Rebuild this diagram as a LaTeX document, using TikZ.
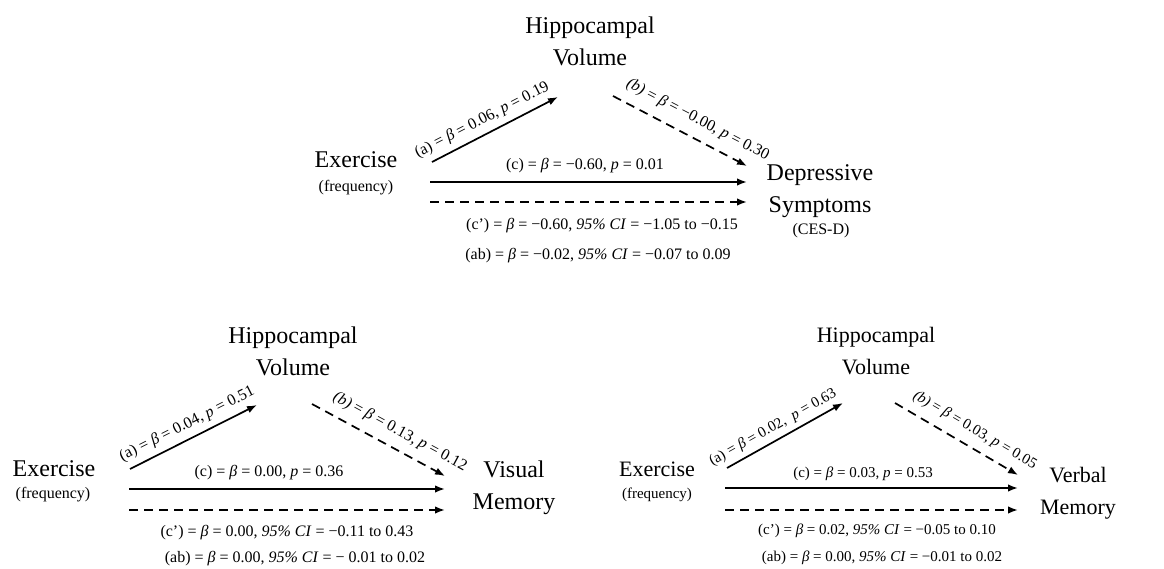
\documentclass[tikz,border=0pt]{standalone}
\usepackage{fontspec}
\setmainfont{Liberation Serif}
\usetikzlibrary{arrows.meta}
\begin{document}
\begin{tikzpicture}[x=1pt,y=-1pt,
  big/.style={font=\fontsize{24}{32}\selectfont, align=center, inner sep=0pt},
  sml/.style={font=\fontsize{16}{18}\selectfont, inner sep=0pt},
  lab/.style={font=\fontsize{16}{18}\selectfont, inner sep=2pt},
  bigR/.style={font=\fontsize{22}{32}\selectfont, align=center, inner sep=0pt},
  smlR/.style={font=\fontsize{15}{18}\selectfont, inner sep=0pt},
  labR/.style={font=\fontsize{15}{18}\selectfont, inner sep=2pt},
  arr/.style={line width=1.7pt, -{Latex[length=10pt,width=7.5pt]}},
  darr/.style={arr, dash pattern=on 9pt off 6pt},
]
\useasboundingbox (0,0) rectangle (1164,569);

% ---------------- top diagram ----------------
\node[big] (hv1) at (590,41) {Hippocampal\\Volume};
\node[big] (ex1) at (356,160) {Exercise};
\node[sml] (fr1) at (356,188) {(frequency)};
\node[big] (ds1) at (820,191) {Depressive\\Symptoms};
\node[sml] (ce1) at (821,231) {(CES-D)};

\coordinate (a1s) at (432,162); \coordinate (a1e) at (558,97);
\coordinate (b1s) at (613,96);  \coordinate (b1e) at (747,166);
\coordinate (c1s) at (430,182); \coordinate (c1e) at (747,182);
\coordinate (d1s) at (430,202); \coordinate (d1e) at (747,202);

\draw[arr] (a1s) -- node[lab, sloped, above=4pt, pos=0.45] {(a) = \textit{β} = 0.06, \textit{p} = 0.19} (a1e);
\draw[darr] (b1s) -- node[lab, sloped, above=8pt, pos=0.57] {\textit{(b)} = \textit{β} = −0.00, \textit{p} = 0.30} (b1e);
\draw[arr] (c1s) -- (c1e);
\draw[darr] (d1s) -- (d1e);
\node[lab] (lc1) at (585,166) {(c) = \textit{β} = −0.60, \textit{p} = 0.01};
\node[lab] (ld1) at (602,226) {(c’) = \textit{β} = −0.60, \textit{95\% CI} = −1.05 to −0.15};
\node[lab] (lab1) at (598,256) {(ab) = \textit{β} = −0.02, \textit{95\% CI} = −0.07 to 0.09};

% ---------------- bottom left ----------------
\node[big] (hv2) at (293,351) {Hippocampal\\Volume};
\node[big] (ex2) at (54,469) {Exercise};
\node[sml] (fr2) at (53,495) {(frequency)};
\node[big] (vm2) at (514,488) {Visual\\Memory};

\coordinate (a2s) at (130,469); \coordinate (a2e) at (257,405);
\coordinate (b2s) at (312,404); \coordinate (b2e) at (445,476);
\coordinate (c2s) at (129,489); \coordinate (c2e) at (445,489);
\coordinate (d2s) at (129,510); \coordinate (d2e) at (445,510);

\draw[arr] (a2s) -- node[lab, sloped, above=4pt, pos=0.5] {(a) = \textit{β} = 0.04, \textit{p} = 0.51} (a2e);
\draw[darr] (b2s) -- node[lab, sloped, above=7pt, pos=0.6] {\textit{(b)} = \textit{β} = 0.13, \textit{p} = 0.12} (b2e);
\draw[arr] (c2s) -- (c2e);
\draw[darr] (d2s) -- (d2e);
\node[lab] (lc2) at (269,473) {(c) = \textit{β} = 0.00, \textit{p} = 0.36};
\node[lab] (ld2) at (287,533) {(c’) = \textit{β} = 0.00, \textit{95\% CI} = −0.11 to 0.43};
\node[lab] (lab2) at (295,559) {(ab) = \textit{β} = 0.00, \textit{95\% CI} = − 0.01 to 0.02};

% ---------------- bottom right ----------------
\node[bigR] (hv3) at (876,351) {Hippocampal\\Volume};
\node[bigR] (ex3) at (657,469) {Exercise};
\node[smlR] (fr3) at (657,495) {(frequency)};
\node[bigR] (vm3) at (1078,493) {Verbal\\Memory};

\coordinate (a3s) at (727,468); \coordinate (a3e) at (843,403);
\coordinate (b3s) at (895,403); \coordinate (b3e) at (1018,475);
\coordinate (c3s) at (725,488); \coordinate (c3e) at (1018,488);
\coordinate (d3s) at (725,510); \coordinate (d3e) at (1018,510);

\draw[arr] (a3s) -- node[labR, sloped, above=3pt, pos=0.45] {(a) = \textit{β} = 0.02, \ \textit{p} = 0.63} (a3e);
\draw[darr] (b3s) -- node[labR, sloped, above=7pt, pos=0.58] {\textit{(b)} = \textit{β} = 0.03, \textit{p} = 0.05} (b3e);
\draw[arr] (c3s) -- (c3e);
\draw[darr] (d3s) -- (d3e);
\node[labR] (lc3) at (863,474) {(c) = \textit{β} = 0.03, \textit{p} = 0.53};
\node[labR] (ld3) at (877,531) {(c’) = \textit{β} = 0.02, \textit{95\% CI} = −0.05 to 0.10};
\node[labR] (lab3) at (882,558) {(ab) = \textit{β} = 0.00, \textit{95\% CI} = −0.01 to 0.02};
\end{tikzpicture}
\end{document}
